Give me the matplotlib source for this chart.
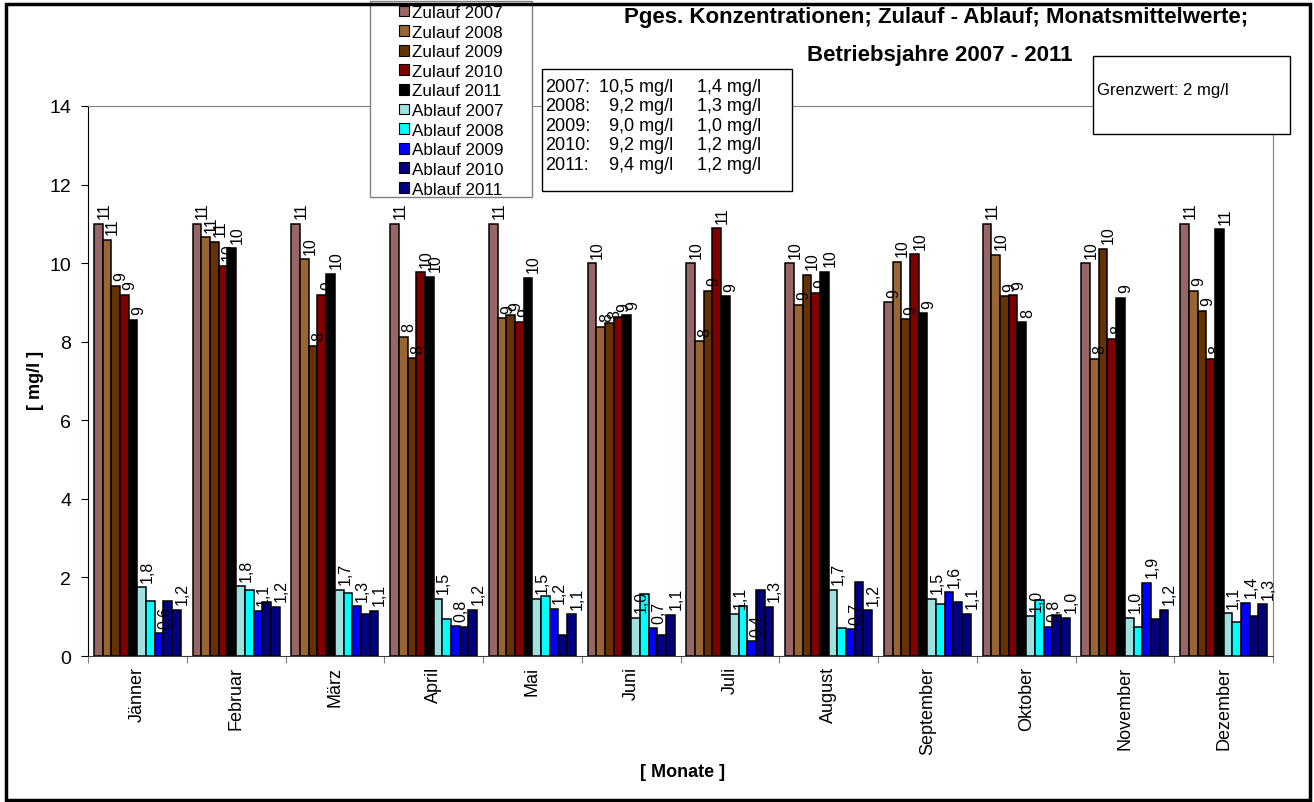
import matplotlib
matplotlib.use("Agg")
import matplotlib.pyplot as plt
from matplotlib.patches import Rectangle, Patch
import numpy as np

plt.rcParams['font.family'] = ['Liberation Sans', 'DejaVu Sans']

monate = ["Jänner", "Februar", "März", "April", "Mai", "Juni", "Juli",
          "August", "September", "Oktober", "November", "Dezember"]

# Monatsmittel Pges [mg/l]
zulauf_2007 = [11.0, 11.0, 11.0, 11.0, 11.0, 10.0, 10.0, 10.0, 9.0, 11.0, 10.0, 11.0]
zulauf_2008 = [10.59, 10.66, 10.1, 8.13, 8.6, 8.38, 8.01, 8.94, 10.03, 10.22, 7.56, 9.3]
zulauf_2009 = [9.43, 10.55, 7.9, 7.58, 8.67, 8.47, 9.29, 9.7, 8.57, 9.16, 10.36, 8.79]
zulauf_2010 = [9.19, 9.93, 9.19, 9.77, 8.51, 8.63, 10.89, 9.24, 10.23, 9.2, 8.07, 7.56]
zulauf_2011 = [8.56, 10.38, 9.73, 9.65, 9.63, 8.68, 9.16, 9.78, 8.72, 8.49, 9.12, 10.86]
ablauf_2007 = [1.75, 1.77, 1.68, 1.46, 1.46, 0.97, 1.08, 1.69, 1.46, 1.01, 0.97, 1.09]
ablauf_2008 = [1.4, 1.69, 1.6, 0.93, 1.54, 1.58, 1.28, 0.71, 1.33, 1.42, 0.73, 0.86]
ablauf_2009 = [0.58, 1.15, 1.27, 0.76, 1.2, 0.71, 0.37, 0.68, 1.62, 0.75, 1.86, 1.35]
ablauf_2010 = [1.4, 1.37, 1.08, 0.75, 0.54, 0.54, 1.68, 1.88, 1.38, 1.04, 0.94, 1.02]
ablauf_2011 = [1.18, 1.25, 1.15, 1.18, 1.06, 1.05, 1.26, 1.16, 1.08, 0.97, 1.17, 1.32]

jahre = ["2007", "2008", "2009", "2010", "2011"]
mittel_zulauf = ["10,5", "9,2", "9,0", "9,2", "9,4"]
mittel_ablauf = ["1,4", "1,3", "1,0", "1,2", "1,2"]

serien = [
    ("Zulauf 2007", zulauf_2007, "#996666", True),
    ("Zulauf 2008", zulauf_2008, "#996633", True),
    ("Zulauf 2009", zulauf_2009, "#663300", True),
    ("Zulauf 2010", zulauf_2010, "#800000", True),
    ("Zulauf 2011", zulauf_2011, "#000000", True),
    ("Ablauf 2007", ablauf_2007, "#A0E0E0", True),
    ("Ablauf 2008", ablauf_2008, "#00FFFF", False),
    ("Ablauf 2009", ablauf_2009, "#0000FF", True),
    ("Ablauf 2010", ablauf_2010, "#000080", False),
    ("Ablauf 2011", ablauf_2011, "#000080", True),
]

W, H = 1314, 803
fig = plt.figure(figsize=(W / 100, H / 100), dpi=100)
ax = fig.add_axes([88 / W, 1 - 657 / H, (1273 - 88) / W, (657 - 107) / H])

x = np.arange(len(monate))
bw = 0.088
for k, (name, vals, col, beschriftet) in enumerate(serien):
    pos = x + (k - 4.5) * bw
    ax.bar(pos, vals, width=bw, color=col, edgecolor="black", linewidth=1.1, zorder=2)
    if not beschriftet:
        continue
    for xp, v in zip(pos, vals):
        txt = f"{v:.0f}" if name.startswith("Zulauf") else f"{v:.1f}".replace(".", ",")
        ax.annotate(txt, (xp, v), xytext=(4, 4), textcoords="offset points",
                    rotation=90, ha="center", va="bottom", fontsize=11.5, zorder=3)

ax.set_xlim(-0.5, 11.5)
ax.set_ylim(0, 14)
ax.set_yticks(np.arange(0, 15, 2))
ax.set_xticks(np.arange(-0.5, 12, 1))
ax.set_xticklabels([])
ax.set_xticks(x, minor=True)
ax.set_xticklabels(monate, minor=True, rotation=90, fontsize=13)
ax.tick_params(axis="x", which="minor", length=0, pad=7)
ax.tick_params(axis="x", which="major", length=5, direction="out", color="#808080")
ax.tick_params(axis="y", length=5, direction="out", labelsize=14, pad=7)
for s in ["top", "right"]:
    ax.spines[s].set_color("#808080")
ax.spines["left"].set_color("black")
ax.spines["bottom"].set_color("#404040")

fig.text(35 / W, 1 - 380 / H, "[ mg/l ]", rotation=90, ha="center", va="center",
         fontsize=13, fontweight="bold")
fig.text(683 / W, 1 - 773 / H, "[ Monate ]", ha="center", va="center",
         fontsize=13, fontweight="bold")

fig.text(936 / W, 1 - 18 / H, "Pges. Konzentrationen; Zulauf - Ablauf; Monatsmittelwerte;",
         ha="center", va="center", fontsize=16, fontweight="bold")
fig.text(940 / W, 1 - 56 / H, "Betriebsjahre 2007 - 2011",
         ha="center", va="center", fontsize=16, fontweight="bold")


def box(x0, y0, x1, y1, edge, lw=1.0):
    fig.patches.append(Rectangle((x0 / W, 1 - y1 / H), (x1 - x0) / W, (y1 - y0) / H,
                                 transform=fig.transFigure, facecolor="white",
                                 edgecolor=edge, linewidth=lw, zorder=2))


# Legende
box(370, 2, 532, 198, "#808080")
handles = [Patch(facecolor=c, edgecolor="black", linewidth=0.8) for _, _, c, _ in serien]
leg = fig.legend(handles, [s[0] for s in serien], loc="upper left",
                 bbox_to_anchor=(399 / W, 1 - 6 / H), frameon=False, fontsize=12.3,
                 handlelength=0.6, handleheight=0.6, handletextpad=0.15,
                 labelspacing=0.27, borderpad=0, borderaxespad=0)
leg.set_zorder(4)

# Jahresmittel Zulauf / Ablauf
box(542, 70, 792, 192, "black")
for i, (j, z, a) in enumerate(zip(jahre, mittel_zulauf, mittel_ablauf)):
    yy = 1 - (87 + i * 19.6) / H
    fig.text(545 / W, yy, j + ":", ha="left", va="center", fontsize=13, zorder=5)
    fig.text(673 / W, yy, z + " mg/l", ha="right", va="center", fontsize=13, zorder=5)
    fig.text(697 / W, yy, a + " mg/l", ha="left", va="center", fontsize=13, zorder=5)

box(1093, 57, 1290, 135, "black")
fig.text(1097 / W, 1 - 91 / H, "Grenzwert: 2 mg/l", ha="left", va="center",
         fontsize=12, zorder=5)

# Rahmen um das ganze Diagramm
fig.patches.append(Rectangle((6 / W, 1 - 801 / H), (1310 - 6) / W, (801 - 5) / H,
                             transform=fig.transFigure, fill=False,
                             edgecolor="black", linewidth=2.5, zorder=6))

fig.savefig("out.png", dpi=100)
plt.close(fig)
